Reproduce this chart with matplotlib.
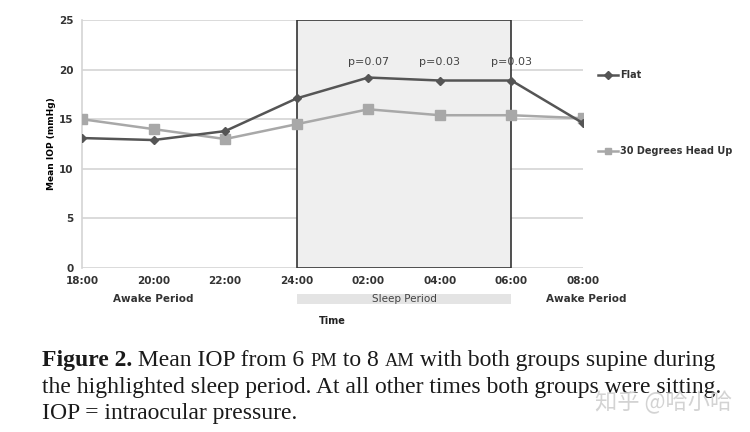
import matplotlib
matplotlib.use("Agg")
import matplotlib.pyplot as plt
from matplotlib.patches import Rectangle
from matplotlib.lines import Line2D

times = ["18:00", "20:00", "22:00", "24:00", "02:00", "04:00", "06:00", "08:00"]
flat = [13.1, 12.9, 13.8, 17.1, 19.2, 18.9, 18.9, 14.6]
head_up = [15.0, 14.0, 13.0, 14.5, 16.0, 15.4, 15.4, 15.1]
p_labels = ["p=0.07", "p=0.03", "p=0.03"]
p_idx = [4, 5, 6]
y_ticks = [0, 5, 10, 15, 20, 25]

fig = plt.figure(figsize=(7.5, 4.32), dpi=100)
fig.patch.set_facecolor("white")
ax = fig.add_axes([82/750, 1-268/432, (583-82)/750, (268-20)/432])
x = list(range(len(times)))

ax.set_xlim(0, 7)
ax.set_ylim(0, 25)
for yt in y_ticks:
    ax.axhline(yt, color="#d4d4d4", lw=1.2, zorder=0)
for s in ["top", "right", "bottom"]:
    ax.spines[s].set_visible(False)
ax.spines["left"].set_color("#d4d4d4")
ax.spines["left"].set_linewidth(1.2)
ax.set_yticks(y_ticks)
ax.set_xticks(x)
ax.set_xticklabels(times)
ax.tick_params(axis="both", length=0, labelsize=7.5, colors="#333333", pad=6)
for lab in ax.get_xticklabels() + ax.get_yticklabels():
    lab.set_fontweight("bold")

ax.add_patch(Rectangle((3, 0), 3, 25, facecolor="#efefef", edgecolor="#333333", lw=1.2, zorder=1))

ax.plot(x, head_up, color="#a8a8a8", lw=1.8, marker="s", ms=7, zorder=3)
ax.plot(x, flat, color="#555555", lw=1.8, marker="D", ms=4.5, zorder=4)

for i, t in zip(p_idx, p_labels):
    ax.text(i, 20.3, t, ha="center", va="bottom", fontsize=8, color="#444444", zorder=5)

ax.set_ylabel("Mean IOP (mmHg)", fontsize=6.5, fontweight="bold", labelpad=2)

# Below-axis annotations
ax.add_patch(Rectangle((3, -3.6), 3, 1.0, facecolor="#e4e4e4", edgecolor="none",
                       transform=ax.transData, clip_on=False))
ax.text(4.5, -3.1, "Sleep Period", ha="center", va="center", fontsize=7.5, color="#444444")
ax.text(1, -3.1, "Awake Period", ha="center", va="center", fontsize=7.5, fontweight="bold", color="#333333")
ax.text(7.05, -3.1, "Awake Period", ha="center", va="center", fontsize=7.5, fontweight="bold", color="#333333")
ax.text(3.5, -5.3, "Time", ha="center", va="center", fontsize=7, fontweight="bold", color="#222222")

# Legend
fig.add_artist(Line2D([598/750, 618/750], [1-75/432]*2, color="#555555", lw=1.8, transform=fig.transFigure))
fig.add_artist(Line2D([608/750], [1-75/432], color="#555555", marker="D", ms=4, transform=fig.transFigure))
fig.text(620/750, 1-75/432, "Flat", fontsize=7, fontweight="bold", va="center", color="#333333")
fig.add_artist(Line2D([598/750, 618/750], [1-151/432]*2, color="#a8a8a8", lw=1.8, transform=fig.transFigure))
fig.add_artist(Line2D([608/750], [1-151/432], color="#a8a8a8", marker="s", ms=5, transform=fig.transFigure))
fig.text(620/750, 1-151/432, "30 Degrees Head Up", fontsize=7, fontweight="bold", va="center", color="#333333")

# Caption with small caps
serif = "Liberation Serif"
fs = 17
lines = [
    [("Figure 2.", fs, "bold"), (" Mean IOP from 6 ", fs, "normal"), ("PM", fs*0.78, "normal"),
     (" to 8 ", fs, "normal"), ("AM", fs*0.78, "normal"), (" with both groups supine during", fs, "normal")],
    [("the highlighted sleep period. At all other times both groups were sitting.", fs, "normal")],
    [("IOP = intraocular pressure.", fs, "normal")],
]
ys = [366, 393, 419]
fig.canvas.draw()
renderer = fig.canvas.get_renderer()
for runs, yy in zip(lines, ys):
    xpos = 42
    for txt, size, wt in runs:
        t = fig.text(xpos/750, 1-yy/432, txt, fontsize=size, fontweight=wt, family=serif,
                     va="baseline", color="#1a1a1a")
        bb = t.get_window_extent(renderer)
        xpos += bb.width

fig.text(595/750, 1-403/432, "知乎 @哈小哈", fontsize=16, color="#cfcfcf",
         family=["Noto Sans CJK SC", "DejaVu Sans"], va="center", alpha=0.9)

fig.savefig("out.png", dpi=100)
